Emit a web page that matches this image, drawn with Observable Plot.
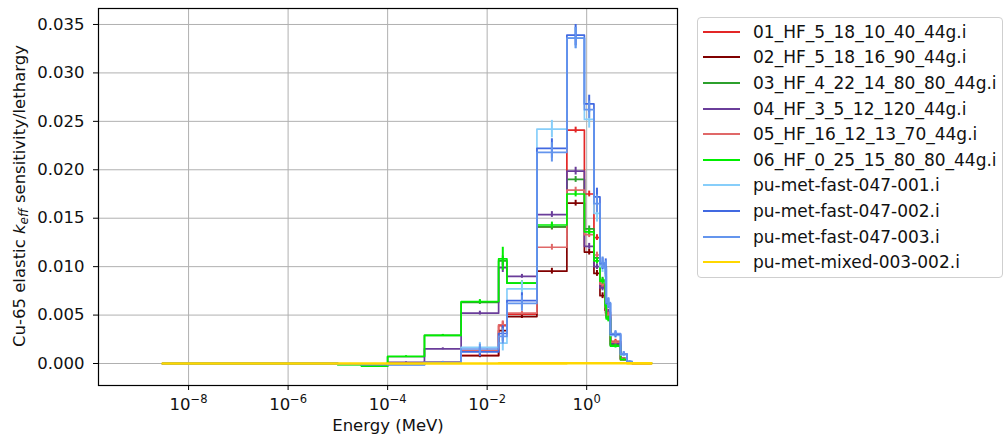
<!DOCTYPE html>
<html><head><meta charset="utf-8">
<script src="https://cdn.jsdelivr.net/npm/d3@7"></script>
<script src="https://cdn.jsdelivr.net/npm/@observablehq/plot@0.6"></script>
<style>
body{margin:0;background:#fff;font-family:"DejaVu Sans",sans-serif;}
#wrap{position:relative;width:1003px;height:437px;overflow:hidden}
#legend{position:absolute;left:697px;top:17px;width:306px;border:1px solid #cfcfcf;border-radius:4px;padding:1px 0 2px 0;box-sizing:border-box;background:#fff}
.row{height:25.6px;display:flex;align-items:center;font-size:17px;white-space:nowrap;color:#111}
.sw{width:37px;height:2px;margin-left:5px;margin-right:13px;flex:none}
</style></head><body><div id="wrap"></div>
<script>
// 44-group energy boundaries (MeV), descending
const edges = [20, 8.187, 6.434, 4.8, 3.0, 2.479, 2.354, 1.85, 1.4, 0.9, 0.4, 0.1, 0.025, 0.017, 0.003, 5.5e-4, 1e-4, 3e-5, 1e-5, 8.1e-6, 6e-6, 4.75e-6, 3e-6, 1.77e-6, 1e-6, 6.25e-7, 4e-7, 3.75e-7, 3.5e-7, 3.25e-7, 2.75e-7, 2.5e-7, 2.25e-7, 2e-7, 1.5e-7, 1e-7, 7e-8, 5e-8, 4e-8, 3e-8, 2.53e-8, 1e-8, 7.5e-9, 3e-9];

const names = ["01_HF_5_18_10_40_44g.i","02_HF_5_18_16_90_44g.i","03_HF_4_22_14_80_80_44g.i","04_HF_3_5_12_120_44g.i","05_HF_16_12_13_70_44g.i","06_HF_0_25_15_80_80_44g.i","pu-met-fast-047-001.i","pu-met-fast-047-002.i","pu-met-fast-047-003.i","pu-met-mixed-003-002.i"];
const colors = ["#e32626","#800000","#2ca02c","#6a3d9a","#e06868","#00ee00","#87cefa","#4169e1","#6495ed","#ffd700"];

// sensitivity per lethargy, group 1 (highest energy) first
const s01 = [0.00002,0.00012,0.0005,0.0023,0.0050,0.0058,0.0080,0.0130,0.0175,0.0241,0.0141,0.0051,0.0039,0.00083,0.00012,-0.00005,-0.0001,-0.00005, 0,0,0,0,0,0,0,0,0,0,0,0,0,0,0,0,0,0,0,0,0,0,0,0,0];
const s02 = [0.00002,0.0001,0.0004,0.0019,0.0048,0.0055,0.0070,0.0093,0.0115,0.01655,0.00953,0.00485,0.0034,0.0008,0.0001,-0.00005,-0.0001,-0.00005, 0,0,0,0,0,0,0,0,0,0,0,0,0,0,0,0,0,0,0,0,0,0,0,0,0];
const s03 = [0.00003,0.00015,0.0005,0.0019,0.0047,0.0060,0.0086,0.0109,0.0139,0.0190,0.0141,0.0083,0.0106,0.0063,0.0029,0.0007,-0.00025,-0.0001, 0,0,0,0,0,0,0,0,0,0,0,0,0,0,0,0,0,0,0,0,0,0,0,0,0];
const s04 = [0.00002,0.00012,0.0005,0.0021,0.0053,0.0060,0.0078,0.0100,0.0121,0.01986,0.01538,0.0090,0.0099,0.0052,0.00152,0.00012,-0.0001,-0.00005, 0,0,0,0,0,0,0,0,0,0,0,0,0,0,0,0,0,0,0,0,0,0,0,0,0];
const s05 = [0.00002,0.00012,0.0005,0.0022,0.0050,0.0058,0.0082,0.0112,0.0133,0.0179,0.0120,0.0052,0.0040,0.00134,0.0001,-0.00005,-0.0001,-0.00005, 0,0,0,0,0,0,0,0,0,0,0,0,0,0,0,0,0,0,0,0,0,0,0,0,0];
const s06 = [0.00003,0.00015,0.0004,0.0018,0.0046,0.0060,0.0085,0.0106,0.0136,0.0175,0.0143,0.0083,0.0108,0.0064,0.0029,0.00075,-0.00028,-0.00012, 0,0,0,0,0,0,0,0,0,0,0,0,0,0,0,0,0,0,0,0,0,0,0,0,0];
const s07 = [0.00003,0.0002,0.0009,0.0029,0.0062,0.0090,0.0100,0.0155,0.0252,0.0336,0.0242,0.0077,0.0021,0.00168,0.0001,-0.0001,-0.0001,-0.00005, 0,0,0,0,0,0,0,0,0,0,0,0,0,0,0,0,0,0,0,0,0,0,0,0,0];
const s08 = [0.00003,0.0002,0.0010,0.0030,0.0062,0.0100,0.0103,0.0172,0.0268,0.0339,0.0222,0.0065,0.0031,0.0012,0.0001,-0.00013,-0.0001,-0.00005, 0,0,0,0,0,0,0,0,0,0,0,0,0,0,0,0,0,0,0,0,0,0,0,0,0];
const s09 = [0.00003,0.0002,0.0010,0.0031,0.0063,0.0098,0.0104,0.0165,0.0262,0.0336,0.0218,0.0062,0.0028,0.0015,0.0001,-0.00013,-0.0001,-0.00005, 0,0,0,0,0,0,0,0,0,0,0,0,0,0,0,0,0,0,0,0,0,0,0,0,0];
const s10 = [0.00001,0.00001,0.00002,0.00002,0.00002,0.00002,0.00002,0.00002,0.00002,0.00002,0.00001,0.00001,0.00001,0,0,0,0,0, 0,0,0,0,0,0,0,0,0,0,0,0,0,0,0,0,0,0,0,0,0,0,0,0,0];

// one-sigma uncertainties, groups 1..18
const e01 = [0.00001,0.00003,0.0001,0.0002,0.0003,0.0004,0.0003,0.0003,0.0003,0.0003,0.0003,0.0002,0.0004,0.0002,0.0001,0.00005,0.00003,0.00002];
const e02 = [0.00001,0.00003,0.0001,0.0002,0.0003,0.0004,0.0003,0.0003,0.0003,0.0003,0.0003,0.0002,0.0004,0.0002,0.0001,0.00005,0.00003,0.00002];
const e03 = [0.00001,0.00003,0.0001,0.0002,0.0003,0.0004,0.0003,0.0003,0.0003,0.0003,0.0003,0.0002,0.0005,0.0002,0.0001,0.00005,0.00003,0.00002];
const e04 = [0.00001,0.00003,0.0001,0.0002,0.0003,0.0004,0.0003,0.0003,0.0003,0.0004,0.0003,0.0002,0.0005,0.0002,0.0001,0.00005,0.00003,0.00002];
const e05 = [0.00001,0.00003,0.0001,0.0002,0.0003,0.0004,0.0003,0.0003,0.0003,0.0003,0.0003,0.0002,0.0004,0.0002,0.0001,0.00005,0.00003,0.00002];
const e06 = [0.00001,0.00003,0.0001,0.0002,0.0003,0.0004,0.0003,0.0003,0.0003,0.0003,0.0003,0.0002,0.0012,0.0002,0.0001,0.00005,0.00003,0.00002];
const e07 = [0.00002,0.00005,0.0002,0.0003,0.0005,0.0008,0.0006,0.0009,0.0009,0.0011,0.0009,0.0008,0.0008,0.0005,0.0001,0.00005,0.00003,0.00002];
const e08 = [0.00002,0.00005,0.0002,0.0003,0.0005,0.0008,0.0006,0.0009,0.0009,0.0011,0.0010,0.0008,0.0008,0.0005,0.0001,0.00005,0.00003,0.00002];
const e09 = [0.00002,0.00005,0.0002,0.0003,0.0005,0.0008,0.0006,0.0009,0.0009,0.0011,0.0010,0.0008,0.0008,0.0005,0.0001,0.00005,0.00003,0.00002];
const e10 = [0.000005,0.000005,0.00001,0.00001,0.00001,0.00001,0.00001,0.00001,0.00001,0.00001,0.00001,0.00001,0.00001,0.00001,0.00001,0.00001,0.00001,0.00001];

const xTicks = [1e-8, 1e-6, 1e-4, 1e-2, 1];
const xTickExponents = ["\u22128","\u22126","\u22124","\u22122","0"];
const yTicks = [0, 0.005, 0.010, 0.015, 0.020, 0.025, 0.030, 0.035];
const yTickLabels = ["0.000","0.005","0.010","0.015","0.020","0.025","0.030","0.035"];

const sens = [s01,s02,s03,s04,s05,s06,s07,s08,s09,s10];
const errs = [e01,e02,e03,e04,e05,e06,e07,e08,e09,e10];

const asc = edges.slice().reverse();
const lineData = [], errData = [];
sens.forEach((vals, k) => {
  const v = vals.slice().reverse();
  v.forEach((y, i) => lineData.push({s: k, x: asc[i], y}));
  lineData.push({s: k, x: asc[asc.length - 1], y: v[v.length - 1]});
  errs[k].forEach((e, g) => {
    errData.push({s: k, x: Math.sqrt(edges[g] * edges[g + 1]), y1: vals[g] - e, y2: vals[g] + e});
  });
});
const xLabelData = xTicks.map((t, i) => ({x: t, label: "10^" + xTickExponents[i]}));

const marks = [
  Plot.gridX(xTicks, {stroke: "#b0b0b0", strokeOpacity: 1, strokeWidth: 1}),
  Plot.gridY(yTicks, {stroke: "#b0b0b0", strokeOpacity: 1, strokeWidth: 1})
];
sens.forEach((_, k) => {
  marks.push(Plot.line(lineData.filter(d => d.s === k), {x: "x", y: "y", curve: "step-after", stroke: colors[k], strokeWidth: k === 9 ? 2.6 : 1.7}));
  marks.push(Plot.ruleX(errData.filter(d => d.s === k), {x: "x", y1: "y1", y2: "y2", stroke: colors[k], strokeWidth: 2}));
});
marks.push(
  Plot.frame({stroke: "#000", strokeWidth: 1.2}),
  Plot.axisX(xTicks, {tickFormat: () => "", tickSize: 5, label: null, stroke: "#000"}),
  Plot.text(xLabelData, {x: "x", text: "label", frameAnchor: "bottom", dy: 24, fontSize: 16.5, fill: "#111"}),
  Plot.axisY(yTicks, {tickFormat: (d, i) => yTickLabels[i], tickSize: 5, tickPadding: 9, fontSize: 16.5, label: null, stroke: "#000"}),
  Plot.text(["Energy (MeV)"], {frameAnchor: "bottom", dy: 45, fontSize: 16.5, fill: "#111"})
);

const chart = Plot.plot({
  width: 690, height: 437,
  marginLeft: 98, marginTop: 8, marginRight: 13, marginBottom: 52,
  style: {fontFamily: "DejaVu Sans", background: "white", color: "#111"},
  x: {type: "log", domain: [Math.pow(10, -9.81), Math.pow(10, 1.825)]},
  y: {domain: [-0.00227, 0.03665]},
  marks
});

// render "10^e" labels with a raised exponent
d3.select(chart).selectAll("text").each(function() {
  const t = this.textContent;
  if (/^10\^/.test(t)) {
    const exp = t.slice(3);
    const el = d3.select(this);
    const tsp = el.select("tspan");
    const target = tsp.empty() ? el : tsp;
    target.text(null);
    target.append("tspan").text("10");
    target.append("tspan").attr("font-size", 11.5).attr("dy", -7).text(exp);
  }
});

const yl = d3.select(chart).append("text")
  .attr("transform", "translate(20,196) rotate(-90)")
  .attr("text-anchor", "middle").attr("dominant-baseline", "middle")
  .attr("font-size", 16.5).attr("fill", "#111").attr("font-family", "DejaVu Sans");
yl.append("tspan").text("Cu-65 elastic ");
yl.append("tspan").attr("font-style", "italic").text("k");
yl.append("tspan").attr("font-style", "italic").attr("font-size", 12).attr("dy", 4).text("eff");
yl.append("tspan").attr("dy", -4).text(" sensitivity/lethargy");

const wrap = document.getElementById("wrap");
chart.style.position = "absolute"; chart.style.left = "0px"; chart.style.top = "0px";
wrap.appendChild(chart);

const legend = document.createElement("div");
legend.id = "legend";
names.forEach((n, k) => {
  const row = document.createElement("div"); row.className = "row";
  const sw = document.createElement("div"); sw.className = "sw"; sw.style.background = colors[k];
  const t = document.createElement("span"); t.textContent = n;
  row.appendChild(sw); row.appendChild(t); legend.appendChild(row);
});
wrap.appendChild(legend);
</script></body></html>
